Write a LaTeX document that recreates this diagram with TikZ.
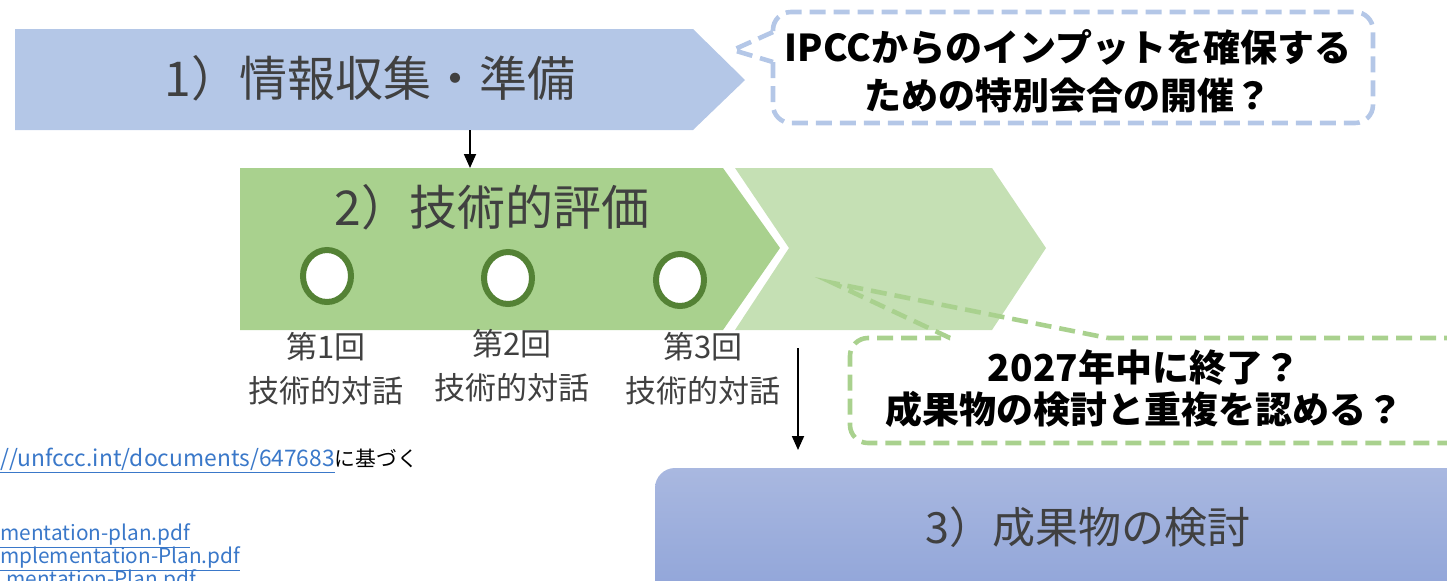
\documentclass[tikz,border=0pt]{standalone}
\usepackage{fontspec}
\setmainfont{Noto Sans CJK JP}
\usetikzlibrary{arrows.meta}
\definecolor{bluearrow}{HTML}{B4C7E7}
\definecolor{darkgreen}{HTML}{A9D18E}
\definecolor{lightgreen}{HTML}{C5E0B4}
\definecolor{ringgreen}{HTML}{548235}
\definecolor{txtgray}{HTML}{404040}
\definecolor{linkblue}{HTML}{3A78C9}
\definecolor{boxtop}{HTML}{A9B8E0}
\definecolor{boxbot}{HTML}{889ED6}
\tikzset{
  stagetext/.style={text=txtgray, font=\fontsize{24}{28}\selectfont, inner sep=0pt},
  roundlabel/.style={text=txtgray, font=\fontsize{15.5}{22}\selectfont, align=center, inner sep=0pt},
  ring/.style={draw=ringgreen, line width=3pt, fill=white},
  bluecallout/.style={draw=bluearrow, line width=2.3pt, dash pattern=on 8pt off 4pt},
  greencallout/.style={draw=darkgreen, line width=2.3pt, dash pattern=on 8pt off 4pt},
  callouttext/.style={font=\bfseries\fontsize{18.5}{24}\selectfont, align=center, inner sep=0pt},
  flowarrow/.style={-{Triangle[length=7pt,width=6pt]}, line width=0.9pt, black},
  reftext/.style={font=\fontsize{10.4}{12}\selectfont, inner sep=0pt}
}
\begin{document}
\begin{tikzpicture}[x=0.5pt,y=-0.5pt]
\useasboundingbox (0,0) rectangle (1447,580);
\clip (0,0) rectangle (1447,580);
% stage 1
\fill[bluearrow] (15,29) -- (693,29) -- (745,80) -- (693,130) -- (15,130) -- cycle;
\node[stagetext] (s1) at (370,78) {1）情報収集・準備};
\coordinate (s1b) at (470,130);
% stage 2
\fill[lightgreen] (735,168) -- (992,168) -- (1046,248) -- (992,330) -- (735,330) -- (789,248) -- cycle;
\fill[darkgreen] (240,168) -- (723,168) -- (780,248) -- (723,330) -- (240,330) -- cycle;
\node[stagetext] (s2) at (492,207) {2）技術的評価};
\coordinate (s2t) at (470,168);
\draw[flowarrow] (s1b) -- (s2t);
% rings
\draw[ring] (327,276) ellipse [x radius=24, y radius=26];
\draw[ring] (508,278) ellipse [x radius=24, y radius=26];
\draw[ring] (680,280) ellipse [x radius=24, y radius=26];
\node[roundlabel] (r1) at (326,369) {第1回\\技術的対話};
\node[roundlabel] (r2) at (512,366) {第2回\\技術的対話};
\node[roundlabel] (r3) at (703,369) {第3回\\技術的対話};
% arrow to stage 3
\coordinate (a3s) at (798,348);
\coordinate (a3e) at (798,450);
\draw[flowarrow] (a3s) -- (a3e);
% stage 3
\shade[top color=boxtop, bottom color=boxbot, rounded corners=10pt] (655,468) rectangle (1520,640);
\node[stagetext, font=\fontsize{21.5}{26}\selectfont] (s3) at (1088,527) {3）成果物の検討};
% blue callout
\draw[bluecallout, rounded corners=9pt] (773,62) -- (773,123) -- (1373,123) -- (1373,12) -- (773,12) -- (773,32);
\draw[bluecallout] (773,32) -- (733,50) -- (773,62);
\node[callouttext] (c1) at (1068,71) {IPCCからのインプットを確保する\\ための特別会合の開催？};
% green callout
\draw[greencallout, rounded corners=9pt] (1108,338) -- (1500,338) -- (1500,443) -- (850,443) -- (850,338) -- (950,338);
\draw[greencallout] (950,338) -- (833,283) -- (1108,338);
\node[callouttext, font=\bfseries\fontsize{18.5}{21}\selectfont] (c2) at (1144,389) {2027年中に終了？\\成果物の検討と重複を認める？};
% references
\node[reftext, anchor=base west] (ref1) at (0,466) {\textcolor{linkblue}{\fontsize{11.4}{12}\selectfont\underline{//unfccc.int/documents/647683}}に基づく};
\node[reftext, anchor=base west, text=linkblue] (ref2) at (0,540) {\underline{mentation-plan.pdf}};
\node[reftext, anchor=base west, text=linkblue] (ref3) at (0,563) {\underline{mplementation-Plan.pdf}};
\node[reftext, anchor=base west, text=linkblue] (ref4) at (6,586) {\underline{mentation-Plan.pdf}};
\end{tikzpicture}
\end{document}
